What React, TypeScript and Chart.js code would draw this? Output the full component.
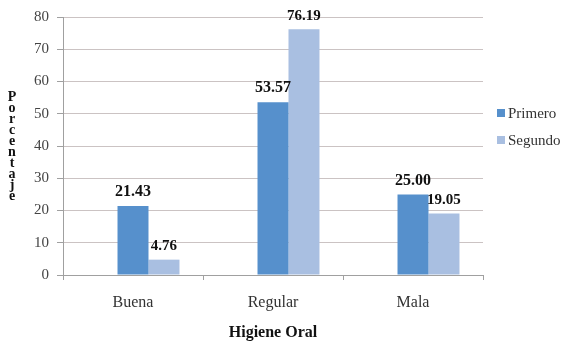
import React, { useEffect, useRef } from "react";
import { Chart, registerables } from "chart.js";

Chart.register(...registerables);

const categories = ["Buena", "Regular", "Mala"];
const primero = [21.43, 53.57, 25.0];
const segundo = [4.76, 76.19, 19.05];
const spacer = [null, null, null];
const seriesNames = ["Primero", "Segundo"];
const yTitle = "Porcentaje";
const xTitle = "Higiene Oral";

const SERIF = "'Liberation Serif', 'DejaVu Serif', serif";
const COLORS = ["#5690CC", "#A9BFE1"];

const extras = {
  id: "extras",
  afterDraw(chart: any) {
    const ctx = chart.ctx;
    ctx.save();
    // data labels
    chart.data.datasets.forEach((ds: any, di: number) => {
      if (ds.label === "") return;
      const meta = chart.getDatasetMeta(di);
      meta.data.forEach((el: any, i: number) => {
        const v = ds.data[i] as number;
        if (v == null) return;
        ctx.font = `bold ${di === 1 ? 16 : 15}px ${SERIF}`;
        ctx.fillStyle = "#111";
        ctx.textAlign = "center";
        ctx.textBaseline = "bottom";
        ctx.fillText(v.toFixed(2), el.x, el.y - 6);
      });
    });
    // y title as stacked letters
    ctx.font = `bold 14px ${SERIF}`;
    ctx.fillStyle = "#111";
    ctx.textAlign = "center";
    ctx.textBaseline = "middle";
    const area = chart.chartArea;
    const mid = (area.top + area.bottom) / 2 + 1;
    const step = 11;
    const letters = yTitle.split("");
    letters.forEach((ch, i) => {
      ctx.fillText(ch, 12, mid + (i - (letters.length - 1) / 2) * step);
    });
    // legend
    const lx = 497;
    const ly = [113, 140];
    seriesNames.forEach((name, i) => {
      ctx.fillStyle = COLORS[i];
      ctx.fillRect(lx, ly[i] - 4, 8, 8);
      ctx.font = `15px ${SERIF}`;
      ctx.fillStyle = "#333";
      ctx.textAlign = "left";
      ctx.textBaseline = "middle";
      ctx.fillText(name, lx + 11, ly[i] + 1);
    });
    ctx.restore();
  },
};

export default function App() {
  const ref = useRef<HTMLCanvasElement>(null);
  useEffect(() => {
    if (!ref.current) return;
    const chart = new Chart(ref.current, {
      type: "bar",
      data: {
        labels: categories,
        datasets: [
          { label: "", data: spacer, backgroundColor: "rgba(0,0,0,0)" },
          { label: seriesNames[0], data: primero, backgroundColor: COLORS[0] },
          { label: seriesNames[1], data: segundo, backgroundColor: COLORS[1] },
        ],
      },
      options: {
        animation: false,
        responsive: false,
        layout: { padding: { left: 0, right: 84, top: 16, bottom: 0 } },
        plugins: { legend: { display: false }, tooltip: { enabled: false } },
        datasets: { bar: { categoryPercentage: 0.664, barPercentage: 1 } },
        scales: {
          x: {
            grid: {
              display: true,
              drawOnChartArea: false,
              drawTicks: true,
              tickLength: 5,
              color: "#a0a0a0",
              offset: true,
            },
            border: { color: "#a0a0a0" },
            ticks: {
              font: { family: SERIF, size: 16 },
              color: "#333",
              padding: 13,
            },
            title: {
              display: true,
              text: xTitle,
              font: { family: SERIF, size: 16, weight: "bold" },
              color: "#111",
              padding: { top: 12, bottom: 0 },
            },
            afterFit: (s: any) => {
              s.height = 67;
            },
          },
          y: {
            min: 0,
            max: 80,
            ticks: {
              stepSize: 10,
              font: { family: SERIF, size: 15 },
              color: "#444",
              padding: 8,
            },
            grid: {
              color: "#cbc3c3",
              tickLength: 6,
              tickColor: "#a0a0a0",
            },
            border: { color: "#a0a0a0" },
            afterFit: (s: any) => {
              s.width = 63;
            },
          },
        },
      },
      plugins: [extras],
    } as any);
    return () => chart.destroy();
  }, []);
  return (
    <div style={{ position: "fixed", left: 0, top: 0, width: 567, height: 342, background: "#fff" }}>
      <canvas ref={ref} width={567} height={342} style={{ width: 567, height: 342 }} />
    </div>
  );
}
